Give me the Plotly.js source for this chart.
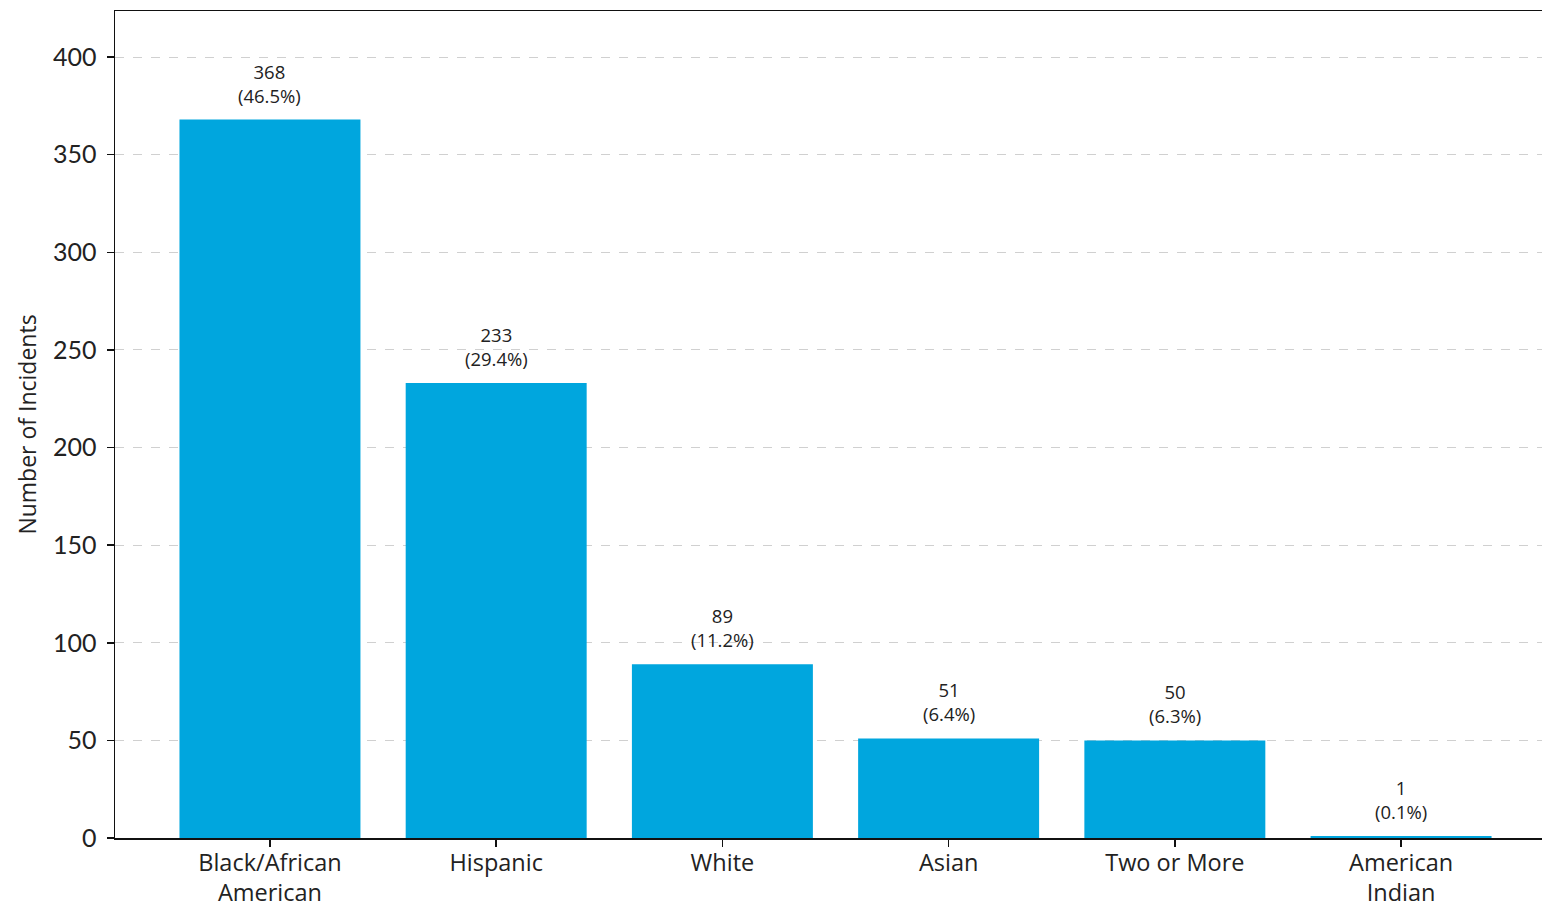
<!DOCTYPE html>
<html>
<head>
<meta charset="utf-8">
<script src="https://cdn.plot.ly/plotly-3.0.1.min.js"></script>
<style>
  html, body { margin: 0; padding: 0; background: #ffffff; overflow: hidden; }
  #chart { width: 1542px; height: 906px; }
</style>
</head>
<body>
<div id="chart"></div>
<script>
// Incident counts by race/ethnicity
const categories = ["Black/African American", "Hispanic", "White", "Asian", "Two or More", "American Indian"];
const tickLabels = ["Black/African<br>American", "Hispanic", "White", "Asian", "Two or More", "American<br>Indian"];
const incidents = [368, 233, 89, 51, 50, 1];
const yTicks = [0, 50, 100, 150, 200, 250, 300, 350, 400];

const total = incidents.reduce((a, b) => a + b, 0);
const positions = categories.map((_, i) => i);

const barTrace = {
  type: "bar",
  x: positions,
  y: incidents,
  width: 0.8,
  marker: { color: "#00a6de", line: { width: 0 } },
  hoverinfo: "x+y",
  showlegend: false
};

// Count and share label above each bar
const labels = incidents.map((v, i) => ({
  x: positions[i],
  y: v,
  xref: "x",
  yref: "y",
  text: v + "<br>(" + (v / total * 100).toFixed(1) + "%)",
  showarrow: false,
  yanchor: "bottom",
  yshift: 10,
  font: { family: "'Open Sans', sans-serif", size: 18.5, color: "#222222" }
}));

const layout = {
  width: 1542,
  height: 906,
  margin: { l: 115, r: 0, t: 11, b: 68 },
  paper_bgcolor: "#ffffff",
  plot_bgcolor: "#ffffff",
  bargap: 0.2,
  xaxis: {
    range: [-0.685, 5.623],
    tickmode: "array",
    tickvals: positions,
    ticktext: tickLabels,
    ticks: "outside",
    ticklen: 7,
    tickwidth: 1.5,
    tickcolor: "#111111",
    ticklabelstandoff: -4,
    showline: true,
    linecolor: "#111111",
    linewidth: 1.5,
    mirror: true,
    showgrid: false,
    zeroline: false,
    tickfont: { family: "'Open Sans', sans-serif", size: 23.5, color: "#222222" },
    fixedrange: true
  },
  yaxis: {
    range: [0, 423.6],
    tickmode: "array",
    tickvals: yTicks,
    ticks: "outside",
    ticklen: 7,
    tickwidth: 1.5,
    tickcolor: "#111111",
    ticklabelstandoff: 5,
    showline: true,
    linecolor: "#111111",
    linewidth: 1.5,
    showgrid: true,
    gridcolor: "rgba(170,170,170,0.55)",
    gridwidth: 1,
    griddash: "dash",
    zeroline: false,
    layer: "above traces",
    tickfont: { family: "Lato, 'Open Sans', sans-serif", size: 25, color: "#222222" },
    title: {
      text: "Number of Incidents",
      font: { family: "'Open Sans', sans-serif", size: 23, color: "#222222" },
      standoff: 10
    },
    fixedrange: true
  },
  annotations: labels
};

Plotly.newPlot("chart", [barTrace], layout, { displayModeBar: false, staticPlot: true });
</script>
</body>
</html>
